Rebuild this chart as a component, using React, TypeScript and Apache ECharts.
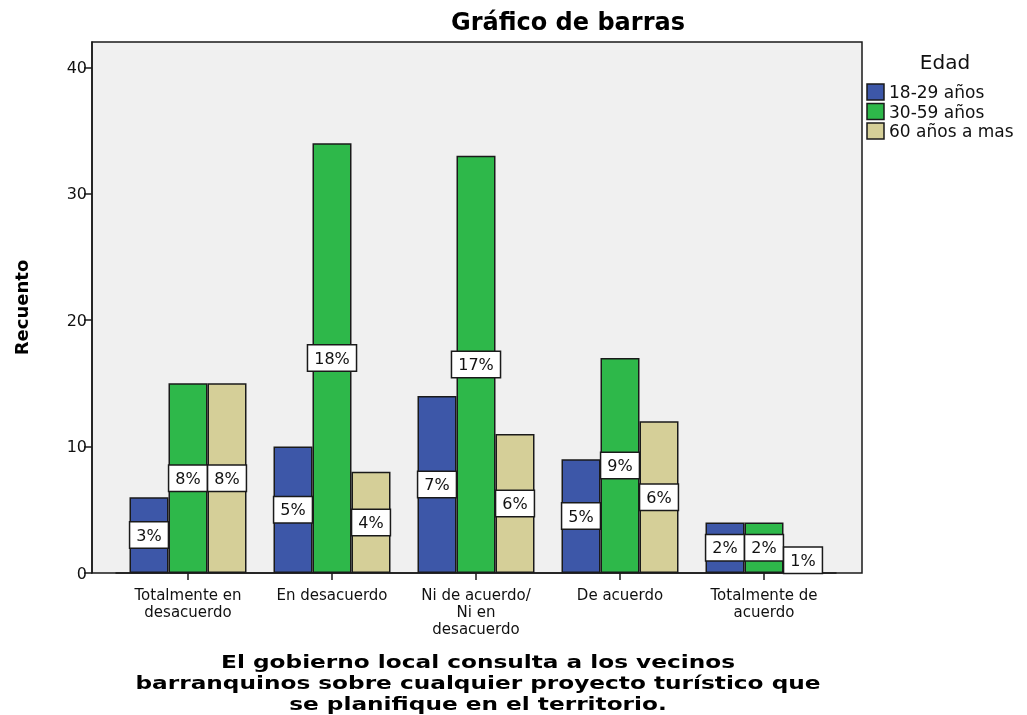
import React, { useEffect, useRef } from "react";
import * as echarts from "echarts";

const categories = [
  "Totalmente en\ndesacuerdo",
  "En desacuerdo",
  "Ni de acuerdo/\nNi en\ndesacuerdo",
  "De acuerdo",
  "Totalmente de\nacuerdo",
];
const seriesNames = ["18-29 años", "30-59 años", "60 años a mas"];
const young = [6, 10, 14, 9, 4];
const middle = [15, 34, 33, 17, 4];
const older = [15, 8, 11, 12, 2];
const youngPct = ["3%", "5%", "7%", "5%", "2%"];
const middlePct = ["8%", "18%", "17%", "9%", "2%"];
const olderPct = ["8%", "4%", "6%", "6%", "1%"];
const colors = ["#3d57a8", "#2eb84a", "#d5cf98"];

const FONT = "'DejaVu Sans', Verdana, sans-serif";

export default function App() {
  const ref = useRef<HTMLDivElement>(null);
  useEffect(() => {
    if (!ref.current) return;
    const chart = echarts.init(ref.current, null, { renderer: "svg" });
    const values = [young, middle, older];
    const pcts = [youngPct, middlePct, olderPct];
    const series = values.map((v, i) => ({
      name: seriesNames[i],
      type: "bar",
      data: v,
      barWidth: 39,
      barGap: "0%",
      itemStyle: { color: colors[i], borderColor: "#1a1a1a", borderWidth: 1.5 },
      label: {
        show: true,
        position: "inside",
        formatter: (p: any) => pcts[i][p.dataIndex],
        color: "#111",
        fontFamily: FONT,
        fontSize: 16,
        lineHeight: 19,
        backgroundColor: "#ffffff",
        borderColor: "#1a1a1a",
        borderWidth: 1.5,
        padding: [3, 6, 3, 6],
      },
    }));
    chart.setOption({
      animation: false,
      textStyle: { fontFamily: FONT },
      grid: { left: 116, right: 191, top: 42, bottom: 142 },
      xAxis: {
        type: "category",
        data: categories,
        axisLine: { show: true, lineStyle: { color: "#1a1a1a", width: 1.5 } },
        axisTick: { show: true, alignWithLabel: true, length: 7, lineStyle: { color: "#1a1a1a", width: 1.5 } },
        axisLabel: { color: "#111", fontSize: 15, lineHeight: 17, margin: 13, fontFamily: FONT, interval: 0 },
      },
      yAxis: {
        type: "value",
        min: 0,
        max: 42,
        interval: 10,
        offset: 24,
        name: "Recuento",
        nameLocation: "middle",
        nameGap: 62,
        nameTextStyle: { fontSize: 18, fontWeight: "bold", color: "#000", fontFamily: FONT },
        axisLine: { show: true, lineStyle: { color: "#1a1a1a", width: 1.5 } },
        axisTick: { show: true, length: 8, lineStyle: { color: "#1a1a1a", width: 1.5 } },
        axisLabel: { color: "#111", fontSize: 16, margin: 5, fontFamily: FONT, showMaxLabel: false },
        splitLine: { show: false },
      },
      legend: { show: false },
      series,
      graphic: {
        elements: [
          {
            type: "rect",
            z: -10,
            shape: { x: 92, y: 42, width: 770, height: 531 },
            style: { fill: "#f0f0f0", stroke: "#1a1a1a", lineWidth: 1.5 },
          },
          {
            type: "text",
            x: 568,
            y: 22,
            style: { text: "Gráfico de barras", font: `bold 24px ${FONT}`, fill: "#000", align: "center", verticalAlign: "middle" },
          },
          {
            type: "text",
            x: 945,
            y: 62,
            style: { text: "Edad", fill: "#111", font: `20px ${FONT}`, align: "center", verticalAlign: "middle" },
          },
          ...seriesNames.flatMap((n, i) => [
            {
              type: "rect",
              shape: { x: 867, y: 84 + i * 19.5, width: 17, height: 16 },
              style: { fill: colors[i], stroke: "#1a1a1a", lineWidth: 1.5 },
            },
            {
              type: "text",
              x: 889,
              y: 92 + i * 19.5,
              style: { text: n, fill: "#111", font: `17px ${FONT}`, verticalAlign: "middle" },
            },
          ]),
          {
            type: "text",
            x: 478,
            y: 683,
            scaleX: 1.29,
            style: {
              text: "El gobierno local consulta a los vecinos\nbarranquinos sobre cualquier proyecto turístico que\nse planifique en el territorio.",
              font: `bold 18px ${FONT}`,
              fill: "#000",
              align: "center",
              verticalAlign: "middle",
              lineHeight: 21,
            },
          },
        ],
      },
    } as any);
    return () => chart.dispose();
  }, []);
  return (
    <div
      ref={ref}
      style={{ position: "fixed", left: 0, top: 0, width: 1027, height: 715 }}
    />
  );
}
